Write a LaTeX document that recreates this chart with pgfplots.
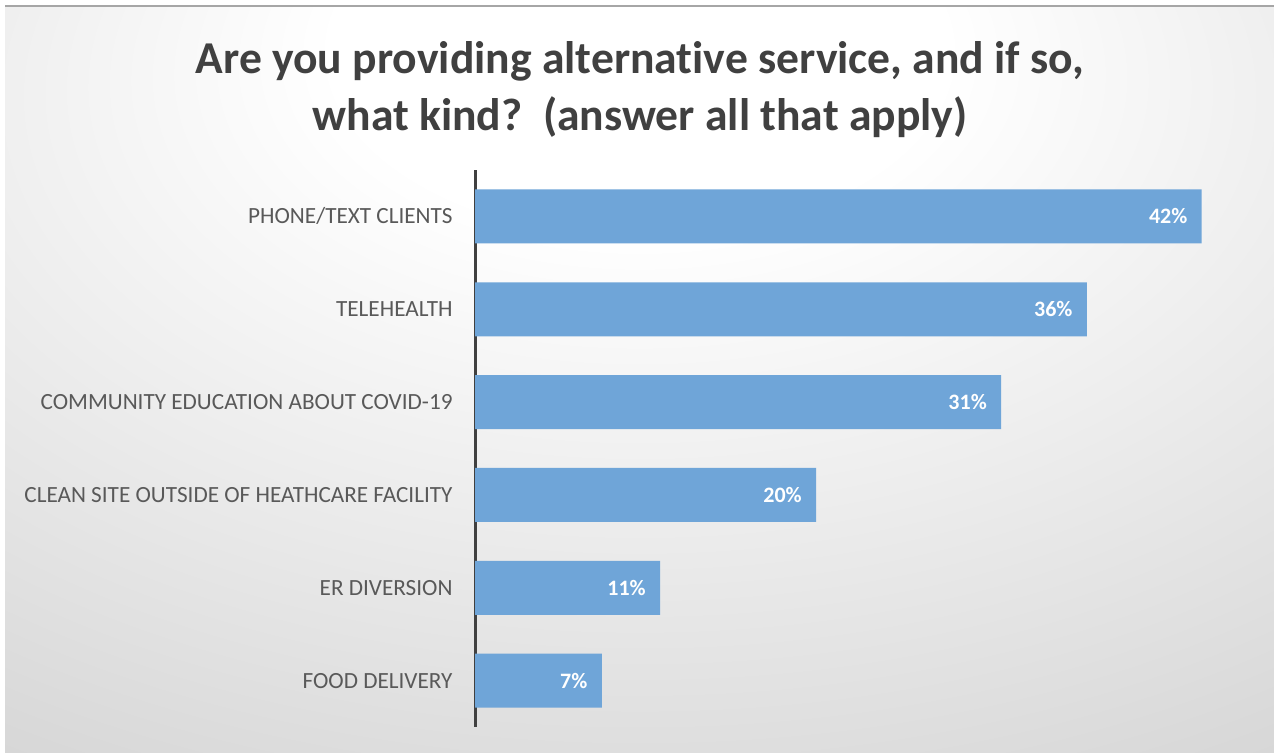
\documentclass[border=0pt]{standalone}
\usepackage{pgfplots}
\pgfplotsset{compat=1.18}
\usepackage{fontspec}
\setmainfont[Ligatures=NoCommon]{Carlito}
\definecolor{bgedge}{HTML}{B8B8B8}
\definecolor{bgmid}{HTML}{D8D8D8}
\definecolor{barblue}{HTML}{6FA5D8}
\definecolor{titlegray}{HTML}{404040}
\definecolor{labelgray}{HTML}{595959}
\pgfdeclareradialshading{chartbg}{\pgfpoint{0bp}{25bp}}{color(0bp)=(white); color(12bp)=(white); color(45bp)=(bgmid); color(80bp)=(bgedge); color(100bp)=(bgedge)}
\begin{document}
\begin{tikzpicture}
\path[use as bounding box] (0,0) rectangle (637pt,376pt);
\shade[shading=chartbg] (2.5pt,0) rectangle (637pt,373pt);
\draw[color=gray!70, line width=0.6pt] (2.5pt,373pt) -- (637pt,373pt);
\node[anchor=base, text=titlegray, font=\fontsize{22.8pt}{27pt}\selectfont\bfseries] at (320pt,339.5pt) {Are you providing alternative service, and if so,};
\node[anchor=base, text=titlegray, font=\fontsize{22.8pt}{27pt}\selectfont\bfseries] at (320pt,311pt) {what kind?\ \ (answer all that apply)};
\begin{axis}[
  at={(237.5pt,12.5pt)}, anchor=south west,
  scale only axis, width=385.65pt, height=278.5pt,
  xbar, bar width=27pt,
  xmin=0, xmax=45, ymin=-0.5, ymax=5.5,
  y dir=reverse,
  axis x line=none,
  axis y line*=left,
  y axis line style={-, color=titlegray, line width=1.5pt},
  ytick={0,1,2,3,4,5},
  yticklabels={PHONE/TEXT CLIENTS, TELEHEALTH, COMMUNITY EDUCATION ABOUT COVID-19, CLEAN SITE OUTSIDE OF HEATHCARE FACILITY, ER DIVERSION, FOOD DELIVERY},
  major tick length=0pt,
  yticklabel style={font=\fontsize{11.6pt}{13pt}\selectfont, text=labelgray, inner sep=0pt, xshift=-11pt},
  /pgf/number format/assume math mode=true,
  nodes near coords={\pgfmathprintnumber[fixed,precision=0,assume math mode=true]{\pgfplotspointmeta}\%},
  point meta=x,
  every node near coord/.append style={anchor=east, inner sep=0pt, xshift=-7pt, text=white, font=\fontsize{11pt}{13pt}\selectfont\bfseries},
  clip=false,
]
\addplot[fill=barblue, draw=none] coordinates {(42.4,0) (35.7,1) (30.7,2) (19.9,3) (10.8,4) (7.4,5)};
\end{axis}
\end{tikzpicture}
\end{document}
